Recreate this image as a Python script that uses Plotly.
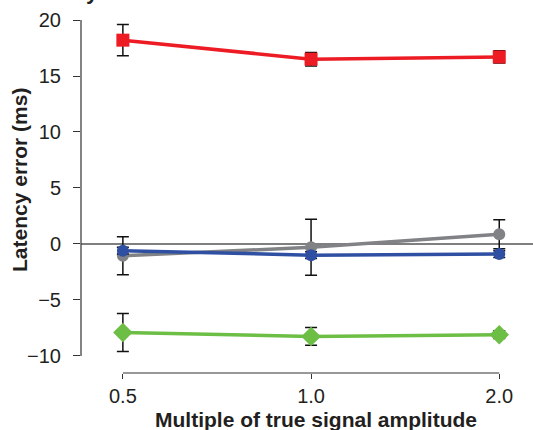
import plotly.graph_objects as go

amplitude = [0.5, 1.0, 2.0]
amp_labels = ["0.5", "1.0", "2.0"]

red_y = [18.2, 16.5, 16.7]
red_err = [1.4, 0.6, 0.55]
gray_y = [-1.05, -0.3, 0.87]
gray_err = [1.7, 2.5, 1.3]
blue_y = [-0.6, -1.0, -0.9]
blue_err = [0.3, 0.3, 0.3]
green_y = [-7.9, -8.25, -8.1]
green_err = [1.7, 0.8, 0.35]

W, H = 533, 430
L, R, T, B = 81, 0, 20, 57
plot_w = W - L - R
plot_h = H - T - B
FONT = "Liberation Sans, Arial, sans-serif"

def px2paper_y(p):
    return (H - B - p) / plot_h

def px2paper_x(p):
    return (p - L) / plot_w

fig = go.Figure()

series = [
    ("gray", gray_y, gray_err, "#808285", "circle", 12),
    ("blue", blue_y, blue_err, "#2F4FA2", "circle", 12),
    ("green", green_y, green_err, "#6CBE45", "diamond", 15),
    ("red", red_y, red_err, "#ED1C24", "square", 13),
]
for name, ys, errs, col, sym, sz in series:
    fig.add_trace(go.Scatter(
        x=amplitude, y=ys, name=name, mode="lines+markers",
        line=dict(color=col, width=3.5),
        marker=dict(color=col, symbol=sym, size=sz),
        error_y=dict(type="data", array=errs, visible=True, color="#111111",
                     thickness=1.5, width=6),
        cliponaxis=False, showlegend=False,
    ))

# zero line
fig.add_shape(type="line", xref="paper", yref="y", x0=0, x1=1, y0=0, y1=0,
              line=dict(color="#555555", width=1.5), layer="below")
# y axis line
fig.add_shape(type="line", xref="paper", yref="y", x0=0, x1=0, y0=-10, y1=20,
              line=dict(color="#333333", width=1.2))
# x axis line
fig.add_shape(type="line", xref="x", yref="paper", x0=0.5, x1=2.0, y0=0, y1=0,
              line=dict(color="#333333", width=1.2))

fig.add_annotation(text="<b>Latency error (ms)</b>", xref="paper", yref="paper",
                   x=px2paper_x(19), y=px2paper_y(180), textangle=-90,
                   xanchor="center", yanchor="middle",
                   showarrow=False, font=dict(size=21, color="#231F20", family=FONT))
fig.add_annotation(text="<b>Multiple of true signal amplitude</b>", xref="paper", yref="paper",
                   x=px2paper_x(316), y=px2paper_y(419),
                   xanchor="center", yanchor="middle",
                   showarrow=False, font=dict(size=21, color="#231F20", family=FONT))
fig.add_annotation(text="<b>Latency</b>", xref="paper", yref="paper",
                   x=px2paper_x(101), y=px2paper_y(6), xanchor="right", yanchor="bottom",
                   showarrow=False, font=dict(size=22, color="#231F20", family=FONT))

fig.update_layout(
    width=W, height=H, margin=dict(l=L, r=R, t=T, b=B),
    paper_bgcolor="white", plot_bgcolor="white",
    font=dict(family=FONT, size=20, color="#231F20"),
    xaxis=dict(type="log", range=[-0.368, 0.355], tickvals=amplitude, ticktext=amp_labels,
               showgrid=False, zeroline=False, showline=False,
               ticks="outside", ticklen=5, tickcolor="#333333", tickwidth=1.2,
               ticklabelstandoff=0),
    yaxis=dict(range=[-11.52, 20], tickvals=[-10, -5, 0, 5, 10, 15, 20],
               showgrid=False, zeroline=False, showline=False,
               ticks="outside", ticklen=7, tickcolor="#333333", tickwidth=1.2,
               ticklabelstandoff=8),
)

fig.write_html("out.html")
